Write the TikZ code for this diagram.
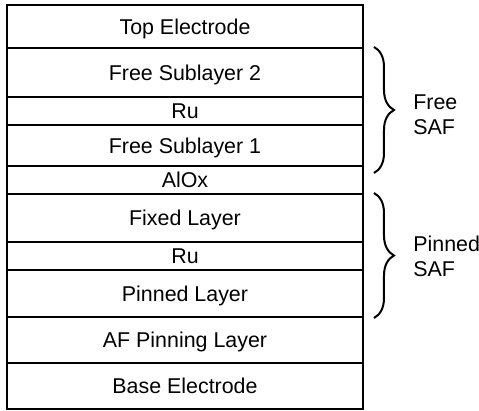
\documentclass[tikz,border=0pt]{standalone}
\usepackage{fontspec}
\setmainfont{Liberation Sans}
\usetikzlibrary{decorations.pathreplacing, calc}

\begin{document}
\begin{tikzpicture}[x=0.5pt, y=-0.5pt,
    layer/.style={draw, line width=1pt, minimum width=178pt, inner sep=0pt, outer sep=0pt, text height=7.7pt, text depth=0pt, font=\fontsize{10.7}{12.5}\selectfont},
    brace/.style={decorate, decoration={brace, amplitude=10pt}, line width=1pt},
    saf/.style={anchor=west, align=left, inner sep=0pt, font=\fontsize{10.7}{12.5}\selectfont}
]
    \useasboundingbox (0,0) rectangle (479,411);

    % Free side of the stack
    \node[layer, minimum height=21.5pt] (top) at (185,26.5) {Top Electrode};
    \node[layer, minimum height=24.5pt] (free2) at (185,72.5) {Free Sublayer 2};
    \node[layer, minimum height=14pt] (ru1) at (185,111) {Ru};
    \node[layer, minimum height=20.5pt] (free1) at (185,145.5) {Free Sublayer 1};

    % Tunnel barrier
    \node[layer, minimum height=14pt] (alox) at (185,180) {AlOx};

    % Pinned side of the stack
    \node[layer, minimum height=24pt] (fixed) at (185,218) {Fixed Layer};
    \node[layer, minimum height=14pt] (ru2) at (185,256) {Ru};
    \node[layer, minimum height=23.5pt] (pinned) at (185,293.5) {Pinned Layer};
    \node[layer, minimum height=23pt] (afpin) at (185,340) {AF Pinning Layer};
    \node[layer, minimum height=23pt] (base) at (185,386) {Base Electrode};

    % Braces
    \draw[brace] ([xshift=5.5pt,yshift=0.5pt]free2.north east) -- ([xshift=5.5pt,yshift=-3.5pt]free1.south east);
    \draw[brace] ([xshift=5.5pt,yshift=0.5pt]fixed.north east) -- ([xshift=5.5pt,yshift=-0.5pt]pinned.south east);

    % Annotations
    \node[saf] (freesaf) at (413,114.5) {Free\\SAF};
    \node[saf] (pinnedsaf) at (413,256) {Pinned\\SAF};
\end{tikzpicture}
\end{document}
